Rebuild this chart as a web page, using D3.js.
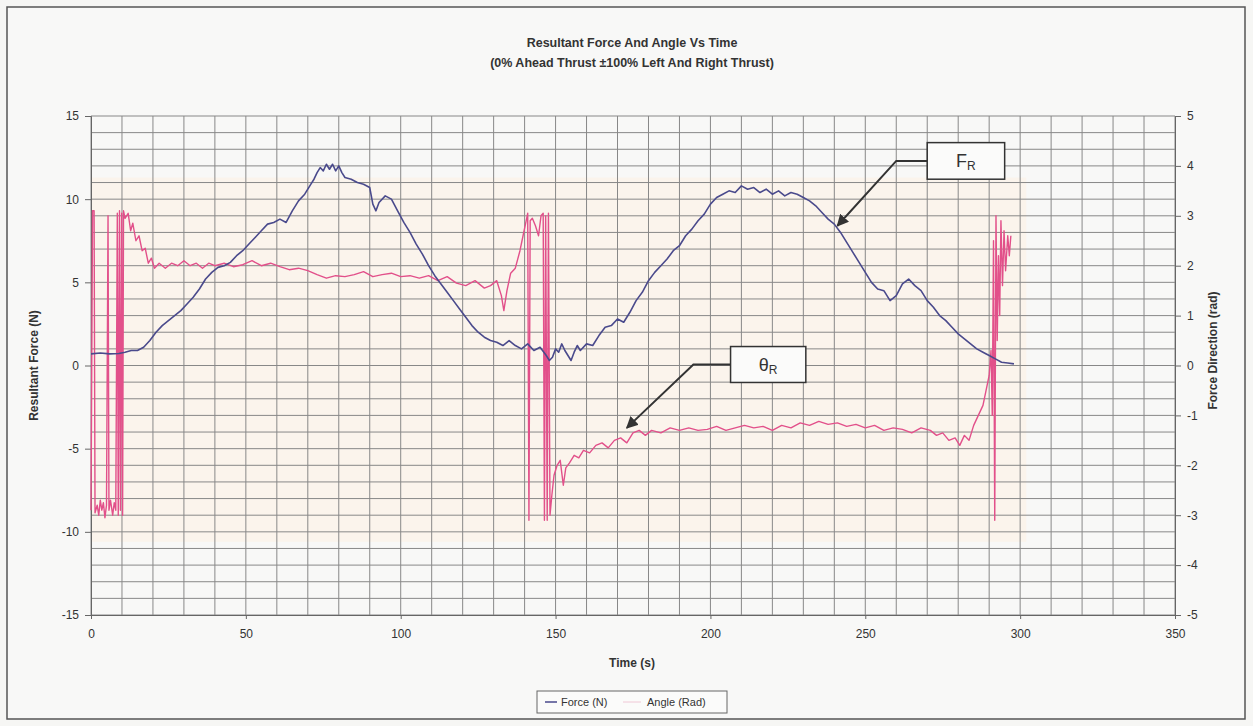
<!DOCTYPE html>
<html>
<head>
<meta charset="utf-8">
<script src="https://cdn.jsdelivr.net/npm/d3@7"></script>
<style>
  html, body { margin: 0; padding: 0; background: #f6f6f4; }
  svg { display: block; font-family: "Liberation Sans", Arial, sans-serif; }
</style>
</head>
<body>
<svg id="chart" width="1253" height="726"></svg>
<script>
// ---------------- DATA ----------------
const titleLines = ["Resultant Force And Angle Vs Time", "(0% Ahead Thrust \u00b1100% Left And Right Thrust)"];
const xTicks = [0, 50, 100, 150, 200, 250, 300, 350];
const yLeftTicks = [-15, -10, -5, 0, 5, 10, 15];
const yRightTicks = [-5, -4, -3, -2, -1, 0, 1, 2, 3, 4, 5];
const seriesNames = ["Force (N)", "Angle (Rad)"];

// Force (N) vs time (s)
const forceTime = [0,3,6,9,11,13,15,17,19,21,23,25,27,29,31,33,35,37,39,41,43,45,47,49,51,53,55,57,59,61,63,65,67,69,71,72,73,74,75,76,77,78,79,80,81,82,84,86,88,90,91,92,93,95,97,99,101,103,105,107,109,111,113,115,117,119,121,123,125,127,129,131,133,135,137,139,141,143,145,147,148,149,150,151,152,153,154,155,156,157,158,160,162,164,166,168,170,172,174,176,178,180,182,184,186,188,190,192,194,196,198,200,202,204,206,208,210,212,214,216,218,220,222,224,226,228,230,232,234,236,238,240,242,244,246,248,250,252,254,256,258,260,262,264,266,268,270,272,274,276,278,280,282,284,286,288,290,292,294,296,298];
const forceVal  = [0.7,0.75,0.7,0.72,0.8,0.9,0.9,1.1,1.5,2.0,2.4,2.7,3.0,3.3,3.7,4.1,4.6,5.2,5.6,5.9,6.0,6.2,6.6,6.9,7.3,7.7,8.1,8.5,8.6,8.8,8.6,9.3,9.9,10.3,10.9,11.2,11.6,11.9,11.7,12.1,11.8,12.1,11.7,12.0,11.6,11.3,11.2,11.0,10.9,10.7,9.7,9.3,9.8,10.2,10.0,9.3,8.6,8.0,7.3,6.7,6.0,5.4,4.9,4.4,3.9,3.4,2.9,2.4,2.0,1.7,1.5,1.4,1.2,1.5,1.2,1.0,1.3,0.9,1.1,0.6,0.3,0.5,1.0,0.8,1.3,0.9,0.6,0.3,0.8,1.2,0.9,1.3,1.2,1.8,2.3,2.4,2.8,2.6,3.2,3.9,4.4,5.1,5.6,6.0,6.4,6.9,7.2,7.8,8.2,8.7,9.1,9.7,10.1,10.3,10.5,10.4,10.8,10.6,10.7,10.4,10.6,10.3,10.5,10.2,10.4,10.3,10.1,9.9,9.6,9.2,8.8,8.5,8.0,7.4,6.8,6.2,5.6,5.0,4.6,4.5,3.9,4.2,4.9,5.2,4.8,4.5,3.9,3.5,3.0,2.7,2.3,1.9,1.6,1.3,1.0,0.8,0.6,0.4,0.2,0.15,0.1,0.1,0.1];

// Angle (rad) vs time (s)
const angleTime = [0,0.5,1.0,1.3,2,2.5,3,3.5,4,4.5,5,5.5,5.8,6.3,7,7.5,8,8.5,8.8,9.2,9.5,9.9,10.2,10.5,11,12,12.8,13.5,14.5,15.5,16.5,17.5,18.5,19.5,20.5,22,24,26,28,30,32,34,36,38,40,43,46,49,52,55,58,61,64,67,70,73,76,79,82,85,88,91,94,97,100,103,106,109,112,115,118,121,124,127,129,131,132.5,133.3,134.3,135.5,137,138.5,139.5,140.5,141,141.4,141.8,142.5,143.5,144.5,145.3,146,146.4,146.8,147.3,147.7,148.2,148.8,149.5,150.5,151.5,152.5,153.3,154.5,156,157.5,159,161,163,165,167,169,171,173,175,177,179,181,184,187,190,193,196,199,202,205,208,211,214,217,220,223,226,229,232,235,238,241,244,247,250,253,256,259,262,265,268,271,273,275,277,279,280.5,282,283.5,285,286.5,288,289,290,290.6,291,291.4,291.8,292.2,292.6,293,293.4,293.8,294.3,294.8,295.3,296,296.5,297];
const angleVal  = [-2.9,3.1,3.1,-2.95,-2.8,-3.0,-2.7,-2.9,-2.75,-3.05,-2.8,3.0,-2.9,-2.7,-3.0,-2.75,-2.9,3.05,-3.0,3.1,-2.9,3.05,-3.0,3.1,2.95,3.05,2.7,2.85,2.5,2.6,2.3,2.35,2.05,2.15,1.95,2.05,1.95,2.05,2.0,2.1,2.0,2.05,1.95,2.05,2.0,2.05,1.98,2.02,2.1,2.0,2.05,1.98,1.92,1.95,1.9,1.82,1.75,1.8,1.78,1.82,1.88,1.78,1.82,1.85,1.78,1.8,1.75,1.8,1.7,1.78,1.65,1.6,1.7,1.55,1.6,1.7,1.4,1.1,1.5,1.85,1.95,2.3,2.6,2.9,3.05,-3.1,2.9,2.95,2.8,2.6,3.0,3.05,-3.1,3.0,-3.1,3.05,-3.0,-2.6,-2.2,-2.0,-1.9,-2.4,-2.05,-1.95,-1.8,-1.85,-1.7,-1.75,-1.6,-1.55,-1.65,-1.5,-1.45,-1.55,-1.35,-1.3,-1.4,-1.3,-1.35,-1.25,-1.3,-1.25,-1.3,-1.28,-1.22,-1.3,-1.25,-1.2,-1.25,-1.22,-1.3,-1.2,-1.25,-1.15,-1.2,-1.12,-1.18,-1.15,-1.22,-1.18,-1.25,-1.2,-1.3,-1.25,-1.28,-1.35,-1.25,-1.3,-1.4,-1.35,-1.5,-1.45,-1.6,-1.4,-1.5,-1.2,-1.0,-0.8,-0.5,-0.2,0.3,-1.0,2.5,-3.1,3.0,0.5,2.2,1.0,2.9,1.6,2.7,1.9,2.6,2.2,2.6];

// Annotation anchors (data units)
const frLabel = {text: "F", sub: "R", t0: 270, t1: 295, f0: 11.2, f1: 13.4, leadT: 260, leadF: 12.3, tipT: 241, tipF: 8.4};
const thLabel = {text: "\u03b8", sub: "R", t0: 206.5, t1: 230.8, r0: -0.34, r1: 0.38, leadT: 194.5, leadR: 0.02, tipT: 173, tipR: -1.25};

// ---------------- LAYOUT ----------------
const svg = d3.select("#chart");
const L = 91, R = 1175, T = 116, B = 615;
const x = d3.scaleLinear().domain([0, 350]).range([L, R]);
const yL = d3.scaleLinear().domain([-15, 15]).range([B, T]);
const yR = d3.scaleLinear().domain([-5, 5]).range([B, T]);
const fmt = d => String(d);

// frame
svg.append("rect").attr("x", 7).attr("y", 7).attr("width", 1238).attr("height", 712)
  .attr("fill", "#f8f8f7").attr("stroke", "#555").attr("stroke-width", 1.5);

// tinted band (scan tint)
svg.append("rect").attr("x", x(0)).attr("y", yL(11.3)).attr("width", x(302) - x(0)).attr("height", yL(-10.6) - yL(11.3))
  .attr("fill", "#fbf4ec");

// grid
const grid = svg.append("g").attr("stroke", "#888").attr("stroke-width", 1);
grid.selectAll("line.v").data(d3.range(0, 351, 10)).enter().append("line")
  .attr("x1", d => x(d)).attr("x2", d => x(d)).attr("y1", T).attr("y2", B);
grid.selectAll("line.h").data(d3.range(-15, 16, 1)).enter().append("line")
  .attr("x1", L).attr("x2", R).attr("y1", d => yL(d)).attr("y2", d => yL(d));

// axes
const axisStyle = g => {
  g.selectAll("path").attr("stroke", "#666");
  g.selectAll("line").attr("stroke", "#666");
  g.selectAll("text").attr("fill", "#333").style("font-size", "12px").style("font-family", "Liberation Sans, Arial, sans-serif");
};
svg.append("g").attr("transform", `translate(${L},0)`)
  .call(d3.axisLeft(yL).tickValues(yLeftTicks).tickFormat(fmt).tickSize(6).tickPadding(6)).call(axisStyle);
svg.append("g").attr("transform", `translate(${R},0)`)
  .call(d3.axisRight(yR).tickValues(yRightTicks).tickFormat(fmt).tickSize(6).tickPadding(6)).call(axisStyle);
svg.append("g").attr("transform", `translate(0,${B})`)
  .call(d3.axisBottom(x).tickValues(xTicks).tickFormat(fmt).tickSize(4).tickPadding(10)).call(axisStyle);

// series
const forceData = forceTime.map((t, i) => [t, forceVal[i]]);
const angleData = angleTime.map((t, i) => [t, angleVal[i]]);
svg.append("path").datum(angleData)
  .attr("fill", "none").attr("stroke", "#e2508a").attr("stroke-width", 1.4).attr("stroke-linejoin", "round")
  .attr("d", d3.line().x(d => x(d[0])).y(d => yR(d[1])));
svg.append("path").datum(forceData)
  .attr("fill", "none").attr("stroke", "#4a4a8c").attr("stroke-width", 1.6).attr("stroke-linejoin", "round")
  .attr("d", d3.line().x(d => x(d[0])).y(d => yL(d[1])));

// title
svg.append("text").attr("x", 632).attr("y", 47).attr("text-anchor", "middle")
  .style("font-size", "12.5px").style("font-weight", "bold").attr("fill", "#333").text(titleLines[0]);
svg.append("text").attr("x", 632).attr("y", 67).attr("text-anchor", "middle")
  .style("font-size", "12.5px").style("font-weight", "bold").attr("fill", "#333").text(titleLines[1]);

// axis titles
svg.append("text").attr("transform", `translate(38,${yL(0)}) rotate(-90)`).attr("text-anchor", "middle")
  .style("font-size", "12px").style("font-weight", "bold").attr("fill", "#333").text("Resultant Force (N)");
svg.append("text").attr("transform", `translate(1217,${yR(0.3)}) rotate(-90)`).attr("text-anchor", "middle")
  .style("font-size", "12px").style("font-weight", "bold").attr("fill", "#333").text("Force Direction (rad)");
svg.append("text").attr("x", 632).attr("y", 667).attr("text-anchor", "middle")
  .style("font-size", "12px").style("font-weight", "bold").attr("fill", "#333").text("Time (s)");

// annotations
const defs = svg.append("defs");
defs.append("marker").attr("id", "arr").attr("viewBox", "0 0 10 10").attr("refX", 9).attr("refY", 5)
  .attr("markerWidth", 6).attr("markerHeight", 6).attr("orient", "auto")
  .append("path").attr("d", "M0,0 L10,5 L0,10 z").attr("fill", "#333");

function annot(bx0, bx1, by0, by1, lx, ly, tx, ty, txt, sub) {
  const g = svg.append("g");
  g.append("path").attr("d", `M${bx0},${ly} L${lx},${ly} L${tx},${ty}`)
    .attr("fill", "none").attr("stroke", "#333").attr("stroke-width", 2).attr("marker-end", "url(#arr)");
  g.append("rect").attr("x", bx0).attr("y", by1).attr("width", bx1 - bx0).attr("height", by0 - by1)
    .attr("fill", "#fbfbfa").attr("stroke", "#333").attr("stroke-width", 1.5);
  const t = g.append("text").attr("x", (bx0 + bx1) / 2).attr("y", (by0 + by1) / 2 + 6).attr("text-anchor", "middle")
    .style("font-size", "18px").attr("fill", "#333");
  t.append("tspan").text(txt);
  t.append("tspan").attr("dy", 3).style("font-size", "12px").text(sub);
}
annot(x(frLabel.t0), x(frLabel.t1), yL(frLabel.f0), yL(frLabel.f1), x(frLabel.leadT), yL(frLabel.leadF),
      x(frLabel.tipT), yL(frLabel.tipF), frLabel.text, frLabel.sub);
annot(x(thLabel.t0), x(thLabel.t1), yR(thLabel.r0), yR(thLabel.r1), x(thLabel.leadT), yR(thLabel.leadR),
      x(thLabel.tipT), yR(thLabel.tipR), thLabel.text, thLabel.sub);

// legend
const lg = svg.append("g").attr("transform", "translate(537,691)");
lg.append("rect").attr("width", 190).attr("height", 22).attr("fill", "#fbfbfa").attr("stroke", "#666");
lg.append("line").attr("x1", 8).attr("x2", 20).attr("y1", 11).attr("y2", 11).attr("stroke", "#4a4a8c").attr("stroke-width", 1.5);
lg.append("text").attr("x", 24).attr("y", 15).style("font-size", "11px").attr("fill", "#333").text(seriesNames[0]);
lg.append("line").attr("x1", 86).attr("x2", 104).attr("y1", 11).attr("y2", 11).attr("stroke", "#f0c8d6").attr("stroke-width", 1);
lg.append("text").attr("x", 110).attr("y", 15).style("font-size", "11px").attr("fill", "#333").text(seriesNames[1]);
</script>
</body>
</html>
